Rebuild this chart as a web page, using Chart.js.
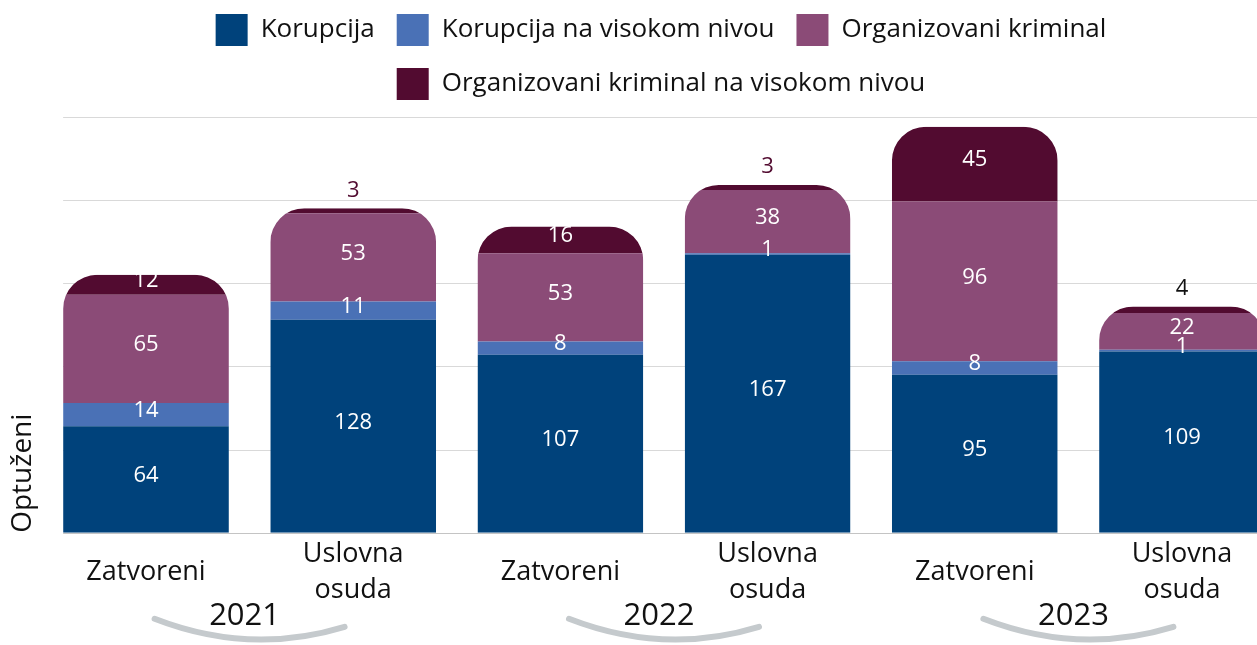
<!DOCTYPE html>
<html>
<head>
<meta charset="utf-8">
<script src="https://cdn.jsdelivr.net/npm/chart.js@4.4.1/dist/chart.umd.min.js"></script>
<style>
  html, body { margin: 0; padding: 0; background: #ffffff; overflow: hidden; width: 1257px; height: 645px; }
  #wrap { position: relative; width: 1257px; height: 645px; overflow: hidden; }
  #c { position: absolute; left: 0; top: -8px; }
</style>
</head>
<body>
<div id="wrap"><canvas id="c" width="1322" height="660"></canvas></div>
<script>
// ---- data ----
const categories = ['Zatvoreni', ['Uslovna', 'osuda'], 'Zatvoreni', ['Uslovna', 'osuda'], 'Zatvoreni', ['Uslovna', 'osuda']];
const years = ['2021', '2022', '2023'];
const seriesNames = ['Korupcija', 'Korupcija na visokom nivou', 'Organizovani kriminal', 'Organizovani kriminal na visokom nivou'];
const korupcija = [64, 128, 107, 167, 95, 109];
const korupcijaVisoko = [14, 11, 8, 1, 8, 1];
const orgKriminal = [65, 53, 53, 38, 96, 22];
const orgKriminalVisoko = [12, 3, 16, 3, 45, 4];
const yTickValues = [0, 50, 100, 150, 200, 250];
const yAxisTitle = 'Optuženi';

// ---- style ----
const FONT = "'Open Sans', 'Noto Sans', sans-serif";
const colors = ['#00427b', '#4a71b6', '#8b4b77', '#520b30'];
const outerLabelColors = ['#520b30', '#520b30', '#520b30', '#520b30', '#520b30', '#111111'];
const gridColor = '#d9d9d9';
const baseColor = '#c4c4c4';
const arcColor = '#c5cacd';
const textColor = '#111111';
const cornerRadius = 34;

const seriesValues = [korupcija, korupcijaVisoko, orgKriminal, orgKriminalVisoko];

const decor = {
  id: 'decor',
  beforeInit(chart) {
    const lg = chart.legend;
    if (lg) {
      const f = lg.fit;
      lg.fit = function () { f.call(this); this.height += 6.7; };
    }
  },
  beforeDatasetsDraw(chart) {
    const { ctx, chartArea, scales: { x, y } } = chart;
    const meta0 = chart.getDatasetMeta(0);
    const first = meta0.data[0];
    const left = first.x - first.width / 2;
    ctx.save();
    ctx.strokeStyle = gridColor;
    ctx.lineWidth = 1.2;
    y.ticks.forEach(t => {
      if (t.value === 0) return;
      const py = Math.round(y.getPixelForValue(t.value)) + 0.5;
      ctx.beginPath();
      ctx.moveTo(left, py);
      ctx.lineTo(chartArea.right, py);
      ctx.stroke();
    });
    ctx.restore();

    ctx.save();
    ctx.beginPath();
    const n = chart.data.labels.length;
    for (let i = 0; i < n; i++) {
      const el = meta0.data[i];
      let total = 0;
      chart.data.datasets.forEach(ds => { total += ds.data[i]; });
      const top = y.getPixelForValue(total);
      const bottom = y.getPixelForValue(0) + 1;
      const l = el.x - el.width / 2, r = el.x + el.width / 2;
      const rad = Math.min(cornerRadius, (r - l) / 2, bottom - top);
      ctx.moveTo(l, bottom);
      ctx.lineTo(l, top + rad);
      ctx.arcTo(l, top, l + rad, top, rad);
      ctx.lineTo(r - rad, top);
      ctx.arcTo(r, top, r, top + rad, rad);
      ctx.lineTo(r, bottom);
      ctx.closePath();
    }
    ctx.clip();
  },
  afterDatasetsDraw(chart) {
    const { ctx, chartArea, scales: { x, y } } = chart;
    ctx.restore();
    const meta0 = chart.getDatasetMeta(0);
    const first = meta0.data[0];
    const left = first.x - first.width / 2;
    const by = Math.round(y.getPixelForValue(0)) + 0.5;
    ctx.save();
    ctx.strokeStyle = baseColor;
    ctx.lineWidth = 1.2;
    ctx.beginPath();
    ctx.moveTo(left, by);
    ctx.lineTo(chartArea.right, by);
    ctx.stroke();

    // value labels
    ctx.font = `22px ${FONT}`;
    ctx.textAlign = 'center';
    ctx.textBaseline = 'middle';
    const nd = chart.data.datasets.length;
    chart.data.datasets.forEach((ds, d) => {
      const meta = chart.getDatasetMeta(d);
      meta.data.forEach((el, i) => {
        const v = ds.data[i];
        const h = el.base - el.y;
        if (d === nd - 1 && h < 14) {
          ctx.fillStyle = outerLabelColors[i];
          ctx.fillText(String(v), el.x, el.y - 18);
        } else {
          ctx.fillStyle = '#ffffff';
          ctx.fillText(String(v), el.x, (el.y + el.base) / 2 - 4);
        }
      });
    });

    // year groups
    const bottom = y.getPixelForValue(0);
    years.forEach((yr, g) => {
      const cx = (x.getPixelForValue(2 * g) + x.getPixelForValue(2 * g + 1)) / 2;
      ctx.strokeStyle = arcColor;
      ctx.lineWidth = 6;
      ctx.lineCap = 'round';
      ctx.beginPath();
      ctx.moveTo(cx - 95, bottom + 86);
      ctx.quadraticCurveTo(cx, bottom + 123, cx + 95, bottom + 94);
      ctx.stroke();
      ctx.fillStyle = textColor;
      ctx.font = `31px ${FONT}`;
      ctx.textAlign = 'center';
      ctx.textBaseline = 'middle';
      ctx.fillText(yr, cx - 5, bottom + 83);
    });
    ctx.restore();
  }
};

new Chart(document.getElementById('c'), {
  type: 'bar',
  data: {
    labels: categories,
    datasets: seriesNames.map((name, k) => ({
      label: name,
      data: seriesValues[k],
      backgroundColor: colors[k],
      borderWidth: 0,
      stack: 's',
      barPercentage: 0.8,
      categoryPercentage: 1.0
    }))
  },
  options: {
    responsive: false,
    devicePixelRatio: 1,
    animation: false,
    layout: { padding: { top: 0, right: 0, bottom: 5, left: 0 } },
    plugins: {
      legend: {
        position: 'top',
        align: 'center',
        labels: {
          boxWidth: 32,
          boxHeight: 32,
          padding: 22,
          color: textColor,
          font: { family: FONT, size: 26 }
        }
      },
      tooltip: { enabled: false }
    },
    scales: {
      x: {
        stacked: true,
        offset: true,
        grid: { display: false, drawTicks: false },
        border: { display: false },
        ticks: {
          color: textColor,
          font: { family: FONT, size: 27, lineHeight: 1.3 },
          padding: 22,
          maxRotation: 0,
          minRotation: 0,
          autoSkip: false,
          crossAlign: 'center'
        }
      },
      y: {
        stacked: true,
        min: yTickValues[0],
        max: yTickValues[yTickValues.length - 1],
        afterBuildTicks(scale) { scale.ticks = yTickValues.map(v => ({ value: v })); },
        afterFit(scale) { scale.width = 42.4; },
        grid: { display: false },
        border: { display: false },
        ticks: { display: false },
        title: {
          display: true,
          text: yAxisTitle,
          align: 'start',
          color: textColor,
          font: { family: FONT, size: 28 },
          padding: { top: 6, bottom: 0 }
        }
      },
      yRight: {
        type: 'linear',
        position: 'right',
        display: true,
        afterFit(scale) { scale.width = 36.4; },
        grid: { display: false },
        border: { display: false },
        ticks: { display: false }
      }
    }
  },
  plugins: [decor]
});
</script>
</body>
</html>
